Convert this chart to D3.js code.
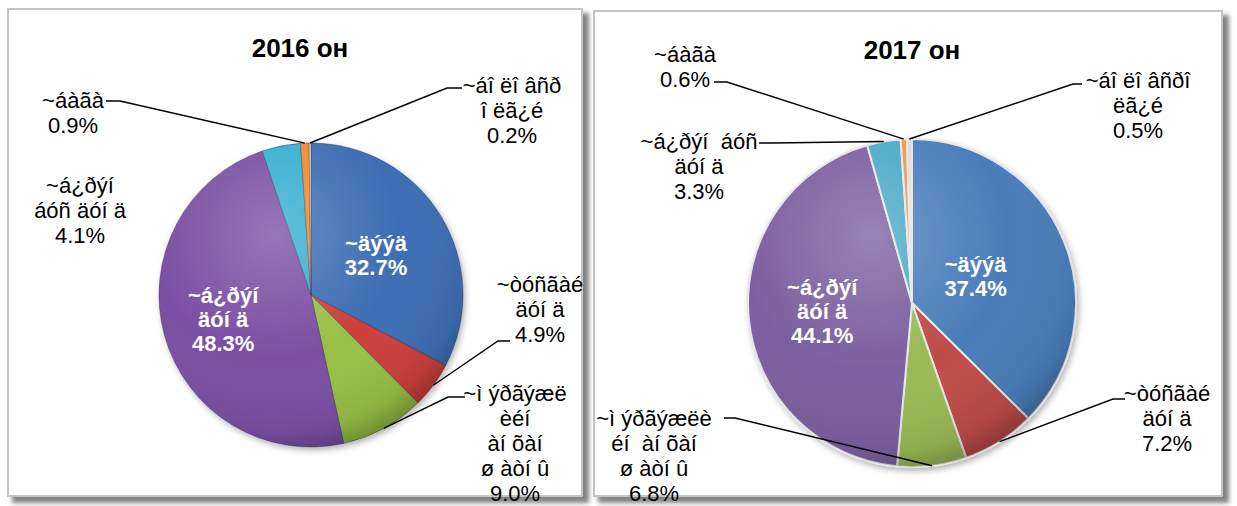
<!DOCTYPE html>
<html>
<head>
<meta charset="utf-8">
<script src="https://cdn.jsdelivr.net/npm/d3@7"></script>
<style>
  body { margin: 0; background: #fff; }
  text { font-family: "Liberation Sans", Arial, sans-serif; }
</style>
</head>
<body>
<div id="chart"></div>
<script>
// ---- data ----
const titles = ["2016 он", "2017 он"];
const values2016 = [32.7, 4.9, 9.0, 48.3, 4.1, 0.9, 0.2];
const values2017 = [37.4, 7.2, 6.8, 44.1, 3.3, 0.6, 0.5];
// category names as they appear (line-broken like the picture)
const names2016 = [
  ["~äýýä"],
  ["~òóñãàé", "äóí ä"],
  ["~ì ýðãýæë", "èéí", "àí õàí", "ø àòí û"],
  ["~á¿ðýí", "äóí ä"],
  ["~á¿ðýí", "áóñ äóí ä"],
  ["~áàãà"],
  ["~áî ëî âñð", "î ëã¿é"]
];
const names2017 = [
  ["~äýýä"],
  ["~òóñãàé", "äóí ä"],
  ["~ì ýðãýæëè", "éí  àí õàí", "ø àòí û"],
  ["~á¿ðýí", "äóí ä"],
  ["~á¿ðýí  áóñ", "äóí ä"],
  ["~áàãà"],
  ["~áî ëî âñðî", "ëã¿é"]
];

const colors2016 = ['#3c6db3', '#cc3f3b', '#98c044', '#7a4fa3', '#36afd0', '#f08a2c', '#e3dccf'];
const colors2017 = ['#4a7dba', '#bf4c49', '#99ba56', '#7c5f9f', '#4aaac5', '#f59545', '#dcdcdc'];

const W = 1237, H = 506;
const fmt = d => d3.format(".1f")(d) + "%";

const svg = d3.select("#chart").append("svg")
    .attr("width", W)
    .attr("height", H);

svg.append("rect").attr("width", W).attr("height", H).attr("fill", "#fff");

const defs = svg.append("defs");

// frame shadow blur
defs.append("filter").attr("id", "frameBlur")
    .attr("x", "-5%").attr("y", "-5%").attr("width", "110%").attr("height", "110%")
  .append("feGaussianBlur").attr("stdDeviation", 2);

const pieShadow = defs.append("filter").attr("id", "pieShadow")
    .attr("x", "-20%").attr("y", "-20%").attr("width", "140%").attr("height", "140%");
pieShadow.append("feDropShadow")
    .attr("dx", 2).attr("dy", 3).attr("stdDeviation", 3)
    .attr("flood-color", "#000").attr("flood-opacity", 0.3);

// soft 3d look on the pies
const shade = defs.append("radialGradient").attr("id", "shade")
    .attr("cx", "38%").attr("cy", "30%").attr("r", "75%");
shade.append("stop").attr("offset", "0%").attr("stop-color", "#fff").attr("stop-opacity", 0.22);
shade.append("stop").attr("offset", "55%").attr("stop-color", "#fff").attr("stop-opacity", 0);
shade.append("stop").attr("offset", "88%").attr("stop-color", "#000").attr("stop-opacity", 0.08);
shade.append("stop").attr("offset", "100%").attr("stop-color", "#000").attr("stop-opacity", 0.3);

// panels (frames)
const panels = [
  {x: 8, y: 9, w: 574, h: 487},
  {x: 594, y: 11, w: 628, h: 485}
];
panels.forEach(p => {
  svg.append("rect")
      .attr("x", p.x + 4).attr("y", p.y + 4)
      .attr("width", p.w + 3).attr("height", p.h + 3)
      .attr("fill", "#858585")
      .attr("filter", "url(#frameBlur)");
  svg.append("rect")
      .attr("x", p.x).attr("y", p.y)
      .attr("width", p.w).attr("height", p.h)
      .attr("fill", "#fff")
      .attr("stroke", "#c4c4c4").attr("stroke-width", 2);
});

// layout for each pie: centre, radius, label spots
const layout2016 = {
  cx: 311, cy: 295, r: 152, titleX: 300, titleY: 48,
  stroke: "rgba(40,30,70,0.45)", strokeW: 0.8,
  inside: {0: 0.5, 3: 0.6},
  outside: {
    1: {x: 540, y: 284, elbow: [498, 341], end: [510, 341]},
    2: {x: 515, y: 393, elbow: [448, 397], end: [465, 397]},
    4: {x: 80, y: 185},
    5: {x: 73, y: 100, elbow: [120, 101], end: [106, 101]},
    6: {x: 512, y: 85, elbow: [447, 88], end: [462, 88]}
  }
};
const layout2017 = {
  cx: 912, cy: 303, r: 164, titleX: 912, titleY: 50,
  stroke: "#e6e6e6", strokeW: 2,
  inside: {0: 0.42, 3: 0.55},
  outside: {
    1: {x: 1167, y: 393, elbow: [1113, 399], end: [1125, 399]},
    2: {x: 654, y: 418, elbow: [735, 418], end: [724, 418]},
    4: {x: 699, y: 141, elbow: [772, 143], end: [759, 143]},
    5: {x: 685, y: 54, elbow: [727, 82], end: [714, 82]},
    6: {x: 1138, y: 80, elbow: [1073, 84], end: [1082, 84]}
  }
};

const lineH = 25;

function drawPie(values, names, colors, title, L) {
  const g = svg.append("g").attr("transform", `translate(${L.cx},${L.cy})`);

  const pie = d3.pie().sort(null).value(d => d);
  const arcs = pie(values);
  const arc = d3.arc().innerRadius(0).outerRadius(L.r);

  const pg = g.append("g").attr("filter", "url(#pieShadow)");
  pg.selectAll("path.slice")
    .data(arcs)
    .enter()
    .append("path")
    .attr("class", "slice")
    .attr("d", arc)
    .attr("fill", (d, i) => colors[i])
    .attr("stroke", L.stroke)
    .attr("stroke-width", L.strokeW);

  g.append("circle")
    .attr("r", L.r)
    .attr("fill", "url(#shade)")
    .style("pointer-events", "none");

  // title
  svg.append("text")
    .attr("x", L.titleX).attr("y", L.titleY)
    .attr("text-anchor", "middle")
    .attr("dominant-baseline", "central")
    .style("font-size", "26px").style("font-weight", "bold")
    .attr("fill", "#000")
    .text(title);

  // labels inside big slices
  Object.keys(L.inside).forEach(k => {
    const i = +k;
    const a = arcs[i];
    const ang = (a.startAngle + a.endAngle) / 2;
    const rr = L.r * L.inside[k];
    const x = L.cx + rr * Math.sin(ang), y = L.cy - rr * Math.cos(ang);
    const lines = names[i].concat([fmt(values[i])]);
    const t = svg.append("text")
      .attr("text-anchor", "middle")
      .attr("fill", "#fff")
      .style("font-size", "22px").style("font-weight", "bold");
    lines.forEach((s, j) => {
      t.append("tspan")
        .attr("x", x)
        .attr("y", y + (j - (lines.length - 1) / 2) * 24)
        .attr("dominant-baseline", "central")
        .text(s);
    });
  });

  // outside labels + leader lines
  Object.keys(L.outside).forEach(k => {
    const i = +k;
    const o = L.outside[k];
    const a = arcs[i];
    const ang = (a.startAngle + a.endAngle) / 2;
    if (o.elbow) {
      const rim = [L.cx + L.r * Math.sin(ang), L.cy - L.r * Math.cos(ang)];
      svg.append("path")
        .attr("d", d3.line()([rim, o.elbow, o.end]))
        .attr("fill", "none")
        .attr("stroke", "#000")
        .attr("stroke-width", 1.4);
    }
    const lines = names[i].concat([fmt(values[i])]);
    const t = svg.append("text")
      .attr("text-anchor", "middle")
      .attr("fill", "#000")
      .style("font-size", "22px");
    lines.forEach((s, j) => {
      t.append("tspan")
        .attr("x", o.x)
        .attr("y", o.y + j * lineH)
        .attr("dominant-baseline", "central")
        .style("white-space", "pre")
        .text(s);
    });
  });
}

drawPie(values2016, names2016, colors2016, titles[0], layout2016);
drawPie(values2017, names2017, colors2017, titles[1], layout2017);
</script>
</body>
</html>
